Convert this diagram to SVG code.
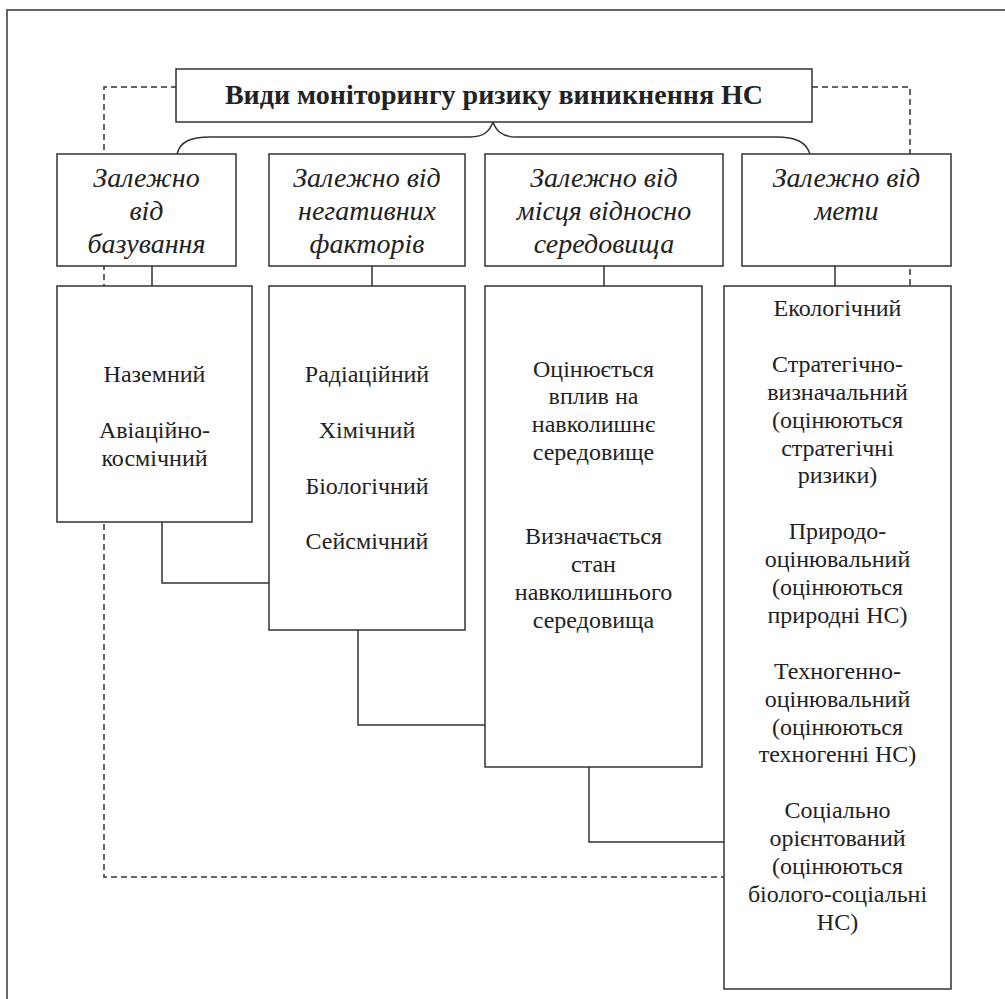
<svg xmlns="http://www.w3.org/2000/svg" width="1005" height="999" viewBox="0 0 1005 999">
<style>
.box{fill:#fff;stroke:#333;stroke-width:1.5}
.ln{fill:none;stroke:#333;stroke-width:1.5}
.dash{fill:none;stroke:#333;stroke-width:1.5;stroke-dasharray:6 4}
text{font-family:'Liberation Serif','DejaVu Serif','Noto Serif',serif}
.t{font-size:24px;fill:#222;text-anchor:middle}
.h{font-size:28px;font-style:italic;fill:#222;text-anchor:middle}
.title{font-size:28px;font-weight:bold;fill:#222;text-anchor:middle}
</style>
<rect width="1005" height="999" fill="#fff"/>
<path d="M7 999 V10 H1005" fill="none" stroke="#666" stroke-width="2"/>
<g id="connectors">
<path class="dash" d="M177 87 H104 V877 H724"/>
<path class="dash" d="M812 87 H910 V286"/>
<path class="ln" d="M177 154 C180 142 190 137 210 137 H470 C485 137 490 130 493 122 C496 130 501 137 516 137 H776 C796 137 806 142 810 154"/>
<path class="ln" d="M152 266 V286 M372 266 V286 M604 266 V286 M835 266 V286"/>
<path class="ln" d="M162 522 V583 H269"/>
<path class="ln" d="M358 630 V725 H485"/>
<path class="ln" d="M589 767 V842 H724"/>
</g>
<g id="title">
<rect class="box" x="176" y="69" width="636" height="53"/>
<text class="title" x="494" y="104">Види моніторингу ризику виникнення НС</text>
</g>
<g id="h1">
<rect class="box" x="57" y="154" width="179" height="112"/>
<text class="h" x="146.5" y="187">Залежно</text>
<text class="h" x="146.5" y="220">від</text>
<text class="h" x="146.5" y="253">базування</text>
</g>
<g id="h2">
<rect class="box" x="269" y="154" width="196" height="112"/>
<text class="h" x="367" y="187">Залежно від</text>
<text class="h" x="367" y="220">негативних</text>
<text class="h" x="367" y="253">факторів</text>
</g>
<g id="h3">
<rect class="box" x="485" y="154" width="238" height="112"/>
<text class="h" x="604" y="187">Залежно від</text>
<text class="h" x="604" y="220">місця відносно</text>
<text class="h" x="604" y="253">середовища</text>
</g>
<g id="h4">
<rect class="box" x="742" y="154" width="209" height="112"/>
<text class="h" x="846.5" y="187">Залежно від</text>
<text class="h" x="846.5" y="220">мети</text>
</g>
<g id="b1">
<rect class="box" x="57" y="286" width="195" height="236"/>
<text class="t" x="154.5" y="382">Наземний</text>
<text class="t" x="154.5" y="437.8">Авіаційно-</text>
<text class="t" x="154.5" y="465.7">космічний</text>
</g>
<g id="b2">
<rect class="box" x="269" y="286" width="196" height="344"/>
<text class="t" x="367" y="382">Радіаційний</text>
<text class="t" x="367" y="437.8">Хімічний</text>
<text class="t" x="367" y="493.6">Біологічний</text>
<text class="t" x="367" y="549.4">Сейсмічний</text>
</g>
<g id="b3">
<rect class="box" x="485" y="286" width="217" height="481"/>
<text class="t" x="593.5" y="376.5">Оцінюється</text>
<text class="t" x="593.5" y="404.4">вплив на</text>
<text class="t" x="593.5" y="432.3">навколишнє</text>
<text class="t" x="593.5" y="460.2">середовище</text>
<text class="t" x="593.5" y="543.9">Визначається</text>
<text class="t" x="593.5" y="571.8">стан</text>
<text class="t" x="593.5" y="599.7">навколишнього</text>
<text class="t" x="593.5" y="627.6">середовища</text>
</g>
<g id="b4">
<rect class="box" x="724" y="286" width="227" height="703"/>
<text class="t" x="837.5" y="316">Екологічний</text>
<text class="t" x="837.5" y="371.8">Стратегічно-</text>
<text class="t" x="837.5" y="399.7">визначальний</text>
<text class="t" x="837.5" y="427.6">(оцінюються</text>
<text class="t" x="837.5" y="455.5">стратегічні</text>
<text class="t" x="837.5" y="483.4">ризики)</text>
<text class="t" x="837.5" y="539.2">Природо-</text>
<text class="t" x="837.5" y="567.1">оцінювальний</text>
<text class="t" x="837.5" y="595">(оцінюються</text>
<text class="t" x="837.5" y="622.9">природні НС)</text>
<text class="t" x="837.5" y="678.7">Техногенно-</text>
<text class="t" x="837.5" y="706.6">оцінювальний</text>
<text class="t" x="837.5" y="734.5">(оцінюються</text>
<text class="t" x="837.5" y="762.4">техногенні НС)</text>
<text class="t" x="837.5" y="818.2">Соціально</text>
<text class="t" x="837.5" y="846.1">орієнтований</text>
<text class="t" x="837.5" y="874">(оцінюються</text>
<text class="t" x="837.5" y="901.9">біолого-соціальні</text>
<text class="t" x="837.5" y="929.8">НС)</text>
</g>
</svg>
